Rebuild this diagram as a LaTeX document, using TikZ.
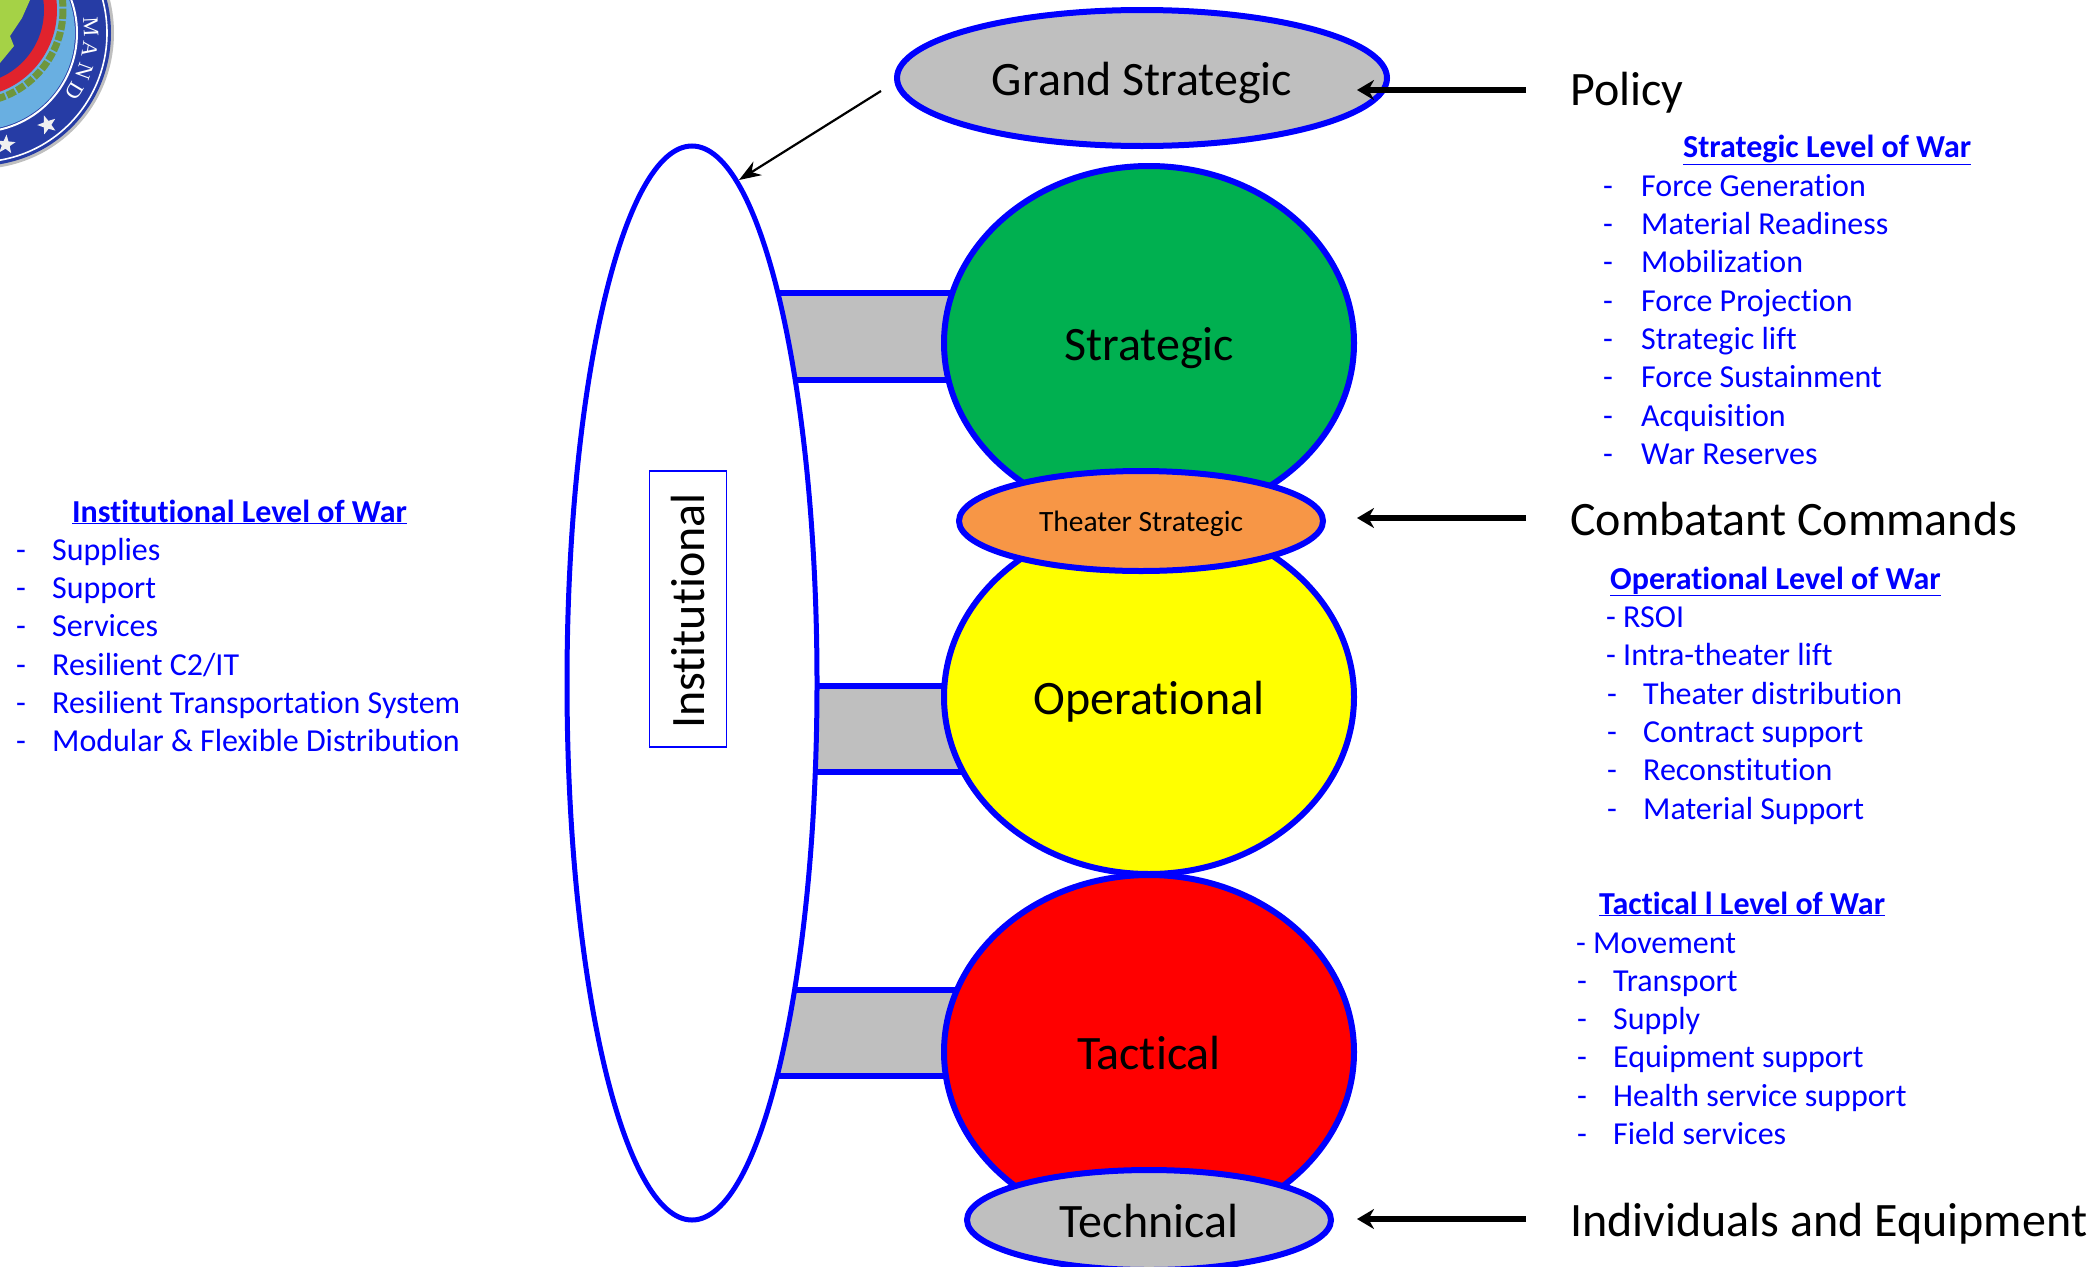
\documentclass[tikz,border=0pt]{standalone}
\usepackage{fontspec}
\setmainfont{Carlito}[Ligatures=NoCommon]
\newfontfamily\sealfont{Liberation Serif}
\usetikzlibrary{shapes.geometric,arrows.meta}
\definecolor{lblue}{RGB}{0,0,255}
\definecolor{lgrey}{RGB}{191,191,191}
\definecolor{lgreen}{RGB}{0,176,80}
\definecolor{lorange}{RGB}{247,150,70}
\definecolor{lyellow}{RGB}{255,255,0}
\definecolor{lred}{RGB}{255,0,0}
\definecolor{sealblue}{RGB}{38,60,165}
\definecolor{sealsky}{RGB}{105,175,225}
\definecolor{sealred}{RGB}{225,35,45}
\definecolor{sealland}{RGB}{165,210,70}
\definecolor{sealwreath}{RGB}{110,150,60}
\newcommand{\fs}[1]{\fontsize{#1}{#1}\selectfont}
\tikzset{
  x=1pt,y=-1pt,
  blob/.style={ellipse,draw=lblue,line width=6pt,inner sep=0pt,text=black,font=\fs{48},text depth=0pt,text height=34pt},
  bar/.style={fill=lgrey,draw=none},
  barline/.style={draw=lblue,line width=6pt},
  head/.style={anchor=base west,inner sep=0pt,font=\fs{48},text=black},
  ttl/.style={anchor=base west,inner sep=0pt,font=\fs{32}\bfseries,text=lblue},
  itm/.style={anchor=base west,inner sep=0pt,font=\fs{32},text=lblue},
  bigarrow/.style={draw=black,line width=6pt,-{Stealth[length=17pt,width=20pt]}},
  thinarrow/.style={draw=black,line width=2.2pt,-{Stealth[length=22pt,width=16pt]}},
}
\newcommand{\dsh}{\makebox[36pt][l]{-}}
\begin{document}
\begin{tikzpicture}
\useasboundingbox (0,0) rectangle (2100,1266);
\clip (0,0) rectangle (2100,1266);
% seal
\fill[black!25] (-22,33) circle (136);
\fill[sealblue] (-22,33) circle (133);
\draw[white,line width=1.6pt] (-22,33) circle (129);
\draw[white,line width=2pt] (-22,33) circle (99);
\fill[sealsky] (-22,33) circle (97);
\draw[sealwreath,line width=7pt,dash pattern=on 9pt off 2pt] (-30,10) circle (93);
\fill[sealred] (-30,10) circle (87);
\fill[sealblue] (-30,10) circle (74);
\fill[sealland] (-40,-20) -- (30,-20) -- (30,0) -- (22,18) -- (10,36) -- (14,46) -- (0,63) -- (-40,70) -- cycle;
\foreach \a [count=\i] in {53,76}{
  \node[star,star points=5,star point ratio=2.4,fill=black!6,inner sep=0pt,minimum size=20pt,rotate=-\a] (st\i) at ({-22+115*cos(\a)},{33+115*sin(\a)}) {};
}
\foreach \c/\a [count=\i] in {M/-3,A/8.5,N/20,D/31}{
  \pgfmathsetmacro{\rr}{-90-\a}
  \node[text=white,font=\sealfont\fs{22},inner sep=0pt,rotate=\rr] (ml\i) at ({-22+113*cos(\a)},{33+113*sin(\a)}) {\c};
}
% bars
\fill[bar] (778,293) -- (960,293) -- (960,380) -- (795,380) -- cycle;
\fill[bar] (815,686) -- (985,686) -- (985,772) -- (815,772) -- cycle;
\fill[bar] (778,990) -- (960,990) -- (960,1076) -- (778,1076) -- cycle;
\coordinate (b1a) at (778,293); \coordinate (b1b) at (960,293);
\coordinate (b2a) at (796,380); \coordinate (b2b) at (960,380);
\coordinate (b3a) at (817,686); \coordinate (b3b) at (985,686);
\coordinate (b4a) at (817,772); \coordinate (b4b) at (985,772);
\coordinate (b5a) at (796,990); \coordinate (b5b) at (965,990);
\coordinate (b6a) at (778,1076); \coordinate (b6b) at (960,1076);
\foreach \n in {1,...,6}{\draw[barline] (b\n a) -- (b\n b);}
% institutional
\node[ellipse,draw=lblue,line width=5pt,fill=white,minimum width=250pt,minimum height=1074pt,inner sep=0pt] (inst) at (692,683) {};
\node[draw=lblue,line width=1.8pt,fill=white,minimum width=276pt,minimum height=77pt,inner sep=0pt,rotate=90,font=\fs{48},text=black] (instl) at (688,609) {\raisebox{0pt}{\hspace{-4pt}Institutional}};
% main
\node[blob,fill=lgreen,minimum width=410pt,minimum height=354pt] (strat) at (1149,343) {Strategic};
\node[blob,fill=lyellow,minimum width=410pt,minimum height=354pt] (oper) at (1149,697) {Operational};
\node[blob,fill=lred,minimum width=410pt,minimum height=354pt] (tact) at (1149,1052) {Tactical};
\node[blob,fill=lgrey,minimum width=490pt,minimum height=136pt] (grand) at (1142,78) {Grand Strategic};
\node[blob,fill=lorange,minimum width=364pt,minimum height=100pt,font=\fs{29.5},text height=21pt] (theat) at (1141,521) {Theater Strategic};
\node[blob,fill=lgrey,minimum width=364pt,minimum height=100pt] (tech) at (1149,1220) {Technical};
% labels
\node[head] (pol) at (1570,105) {Policy};
\node[head] (cc) at (1570,535) {Combatant Commands};
\node[head] (ind) at (1570,1236) {Individuals and Equipment};
% arrows
\coordinate (a1) at (1526,90); \coordinate (a1e) at (1357,90);
\coordinate (a2) at (1526,518); \coordinate (a2e) at (1357,518);
\coordinate (a3) at (1526,1219); \coordinate (a3e) at (1357,1219);
\coordinate (a4) at (881,91); \coordinate (a4e) at (739,180);
\draw[bigarrow] (a1) -- (a1e);
\draw[bigarrow] (a2) -- (a2e);
\draw[bigarrow] (a3) -- (a3e);
\draw[thinarrow] (a4) -- (a4e);
% lists
\node[ttl] (st) at (1683,157.5) {\underline{Strategic Level of War}};
\foreach \t [count=\i] in {Force Generation,Material Readiness,Mobilization,Force Projection,Strategic lift,Force Sustainment,Acquisition,War Reserves}{
  \node[itm] (s\i) at (1603,158+38.3*\i) {\makebox[38pt][l]{-}\t};
}
\node[ttl] (ot) at (1610,589) {\underline{Operational Level of War}};
\node[itm] (o1) at (1606,627) {- RSOI};
\node[itm] (o2) at (1606,665.5) {- Intra-theater lift};
\foreach \t [count=\i] in {Theater distribution,Contract support,Reconstitution,Material Support}{
  \node[itm] (op\i) at (1607,666+38.3*\i) {\makebox[36pt][l]{-}\t};
}
\node[ttl] (tt) at (1599,914) {\underline{Tactical l Level of War}};
\node[itm] (t0) at (1576,953) {- Movement};
\foreach \t [count=\i] in {Transport,Supply,Equipment support,Health service support,Field services}{
  \node[itm] (t\i) at (1577,953+38.3*\i) {\makebox[36pt][l]{-}\t};
}
\node[ttl] (it) at (72,522) {\underline{Institutional Level of War}};
\foreach \t [count=\i] in {Supplies,Support,Services,Resilient C2/IT,Resilient Transportation System,Modular \& Flexible Distribution}{
  \node[itm] (i\i) at (16,522+38.3*\i) {\dsh\t};
}
\end{tikzpicture}
\end{document}
